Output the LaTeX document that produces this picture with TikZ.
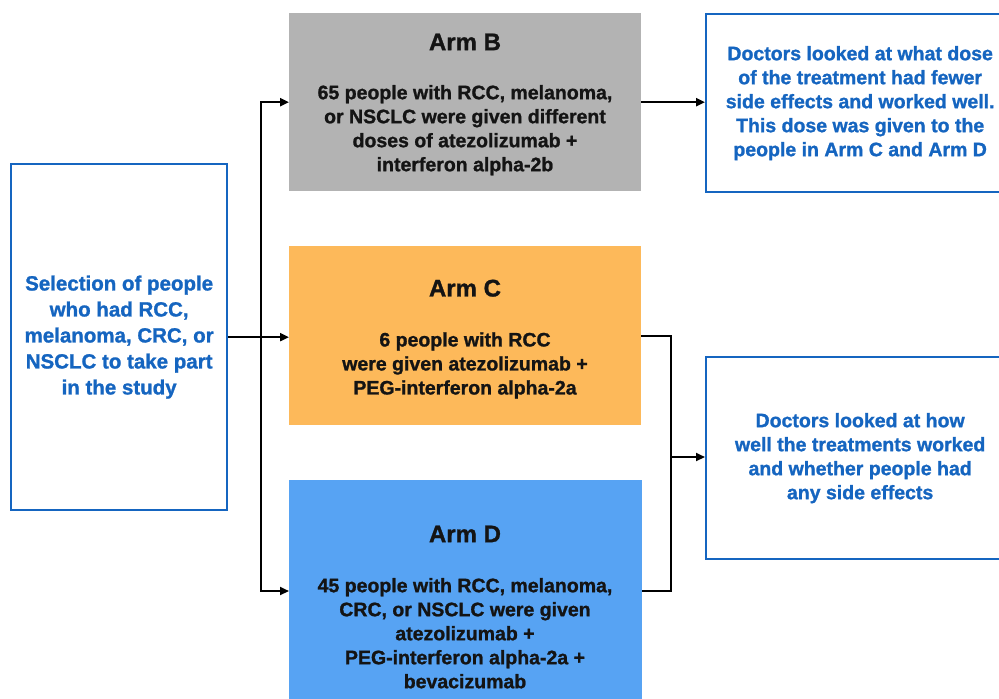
\documentclass[tikz,border=0pt]{standalone}
\usepackage{fontspec}
\setmainfont{Liberation Sans}[BoldFeatures={FakeBold=1.2}]
\usetikzlibrary{arrows.meta,calc}
\definecolor{selblue}{RGB}{21,101,192}
\definecolor{armgray}{RGB}{179,179,179}
\definecolor{armorange}{RGB}{253,185,90}
\definecolor{armblue}{RGB}{87,163,243}
\begin{document}
\begin{tikzpicture}[x=1pt,y=-1pt,
  bluebox/.style={draw=selblue,line width=2.3pt,fill=white,inner sep=0pt,anchor=north west,align=center,text=selblue,font=\bfseries\fontsize{19.5}{24}\selectfont},
  armbox/.style={inner sep=0pt,anchor=north west},
  armtext/.style={anchor=north,align=center,inner sep=0pt,font=\bfseries\fontsize{19.5}{24}\selectfont,text=black!92},
  conn/.style={line width=2.1pt},
  arr/.style={conn,-{Triangle[length=9pt,width=8pt]}}]
\clip (0,0) rectangle (999,699);
\fill[white] (0,0) rectangle (999,699);
% boxes
\node[bluebox,minimum width=216pt,minimum height=346pt,font=\bfseries\fontsize{20.5}{26}\selectfont] (sel) at (10,163)
  {Selection of people\\who had RCC,\\melanoma, CRC, or\\NSCLC to take part\\in the study};
\node[armbox,fill=armgray,minimum width=352pt,minimum height=178pt] (armB) at (289,13) {};
\node[armtext] (armBt) at (465,33.5)
  {{\fontsize{24}{24}\selectfont Arm B}\\[25pt]65 people with RCC, melanoma,\\or NSCLC were given different\\doses of atezolizumab +\\interferon alpha-2b};
\node[armbox,fill=armorange,minimum width=352pt,minimum height=179pt] (armC) at (289,246) {};
\node[armtext] (armCt) at (465,279.5)
  {{\fontsize{24}{24}\selectfont Arm C}\\[26pt]6 people with RCC\\were given atezolizumab +\\PEG-interferon alpha-2a};
\node[armbox,fill=armblue,minimum width=353pt,minimum height=240pt] (armD) at (289,480) {};
\node[armtext] (armDt) at (465,525.5)
  {{\fontsize{24}{24}\selectfont Arm D}\\[26pt]45 people with RCC, melanoma,\\CRC, or NSCLC were given\\atezolizumab +\\PEG-interferon alpha-2a +\\bevacizumab};
\node[bluebox,minimum width=308pt,minimum height=178pt] (res1) at (705,13)
  {Doctors looked at what dose\\of the treatment had fewer\\side effects and worked well.\\This dose was given to the\\people in Arm C and Arm D};
\node[bluebox,minimum width=308pt,minimum height=202pt] (res2) at (705,356)
  {Doctors looked at how\\well the treatments worked\\and whether people had\\any side effects};
% connectors
\coordinate (trunk) at (261,336);
\coordinate (dIn) at (289,591);
\coordinate (dOut) at (642,591);
\coordinate (merge) at (671,457);
\draw[arr] (sel.east) -- (sel.east -| armC.west);
\draw[arr] (trunk) |- (armB.west);
\draw[arr] (trunk) |- (dIn);
\draw[arr] (armB.east) -- (armB.east -| res1.west);
\draw[conn] (armC.east) -| (merge);
\draw[conn] (dOut) -| (merge);
\draw[arr] (merge) -- (merge -| res2.west);
\end{tikzpicture}
\end{document}
